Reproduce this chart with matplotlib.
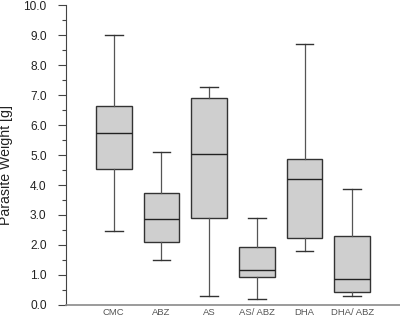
import matplotlib
matplotlib.use("Agg")
import matplotlib.pyplot as plt
from matplotlib.ticker import MultipleLocator

categories = ["CMC", "ABZ", "AS", "AS/ ABZ", "DHA", "DHA/ ABZ"]
whislo = [2.48, 1.49, 0.29, 0.20, 1.80, 0.29]
q1     = [4.53, 2.10, 2.89, 0.94, 2.22, 0.43]
med    = [5.72, 2.86, 5.02, 1.17, 4.21, 0.87]
q3     = [6.62, 3.73, 6.89, 1.93, 4.87, 2.29]
whishi = [9.00, 5.09, 7.28, 2.89, 8.69, 3.88]
yticks = [0, 1, 2, 3, 4, 5, 6, 7, 8, 9, 10]

plt.rcParams['font.family'] = ['Liberation Sans', 'DejaVu Sans']

fig = plt.figure(figsize=(4.0, 3.19), dpi=100)
ax = fig.add_axes([0.165, 0.0439, 0.835, 0.9404])

stats = []
for i, c in enumerate(categories):
    stats.append(dict(label=c, whislo=whislo[i], q1=q1[i], med=med[i],
                      q3=q3[i], whishi=whishi[i], fliers=[]))

ec = '#333333'
ax.bxp(stats, positions=range(1, len(categories) + 1), widths=0.75,
       patch_artist=True, showfliers=False,
       boxprops=dict(facecolor='#cfcfcf', edgecolor=ec, linewidth=1.0),
       medianprops=dict(color='#222222', linewidth=1.0),
       whiskerprops=dict(color='#555555', linewidth=0.9),
       capprops=dict(color='#333333', linewidth=1.0),
       capwidths=0.37)

ax.set_xlim(0, 7)
ax.set_ylim(0, 10)
ax.set_yticks(yticks)
ax.set_yticklabels([f"{v:.1f}" for v in yticks], fontsize=8.6, color='#222222')
ax.yaxis.set_minor_locator(MultipleLocator(0.5))
ax.tick_params(axis='y', which='major', length=6, width=0.8, color='#444444', pad=8)
ax.tick_params(axis='y', which='minor', length=3, width=0.8, color='#444444')
ax.tick_params(axis='x', length=0, labelsize=6.8, labelcolor='#555555', pad=2.5)

ax.spines['top'].set_visible(False)
ax.spines['right'].set_visible(False)
ax.spines['left'].set_color('#444444')
ax.spines['left'].set_linewidth(0.8)
ax.spines['bottom'].set_color('#8a8a8a')
ax.spines['bottom'].set_linewidth(1.2)

ax.set_ylabel("Parasite Weight [g]", fontsize=10.2, color='#222222')
ax.yaxis.set_label_coords(-0.158, 0.467)

fig.savefig("out.png", dpi=100)
